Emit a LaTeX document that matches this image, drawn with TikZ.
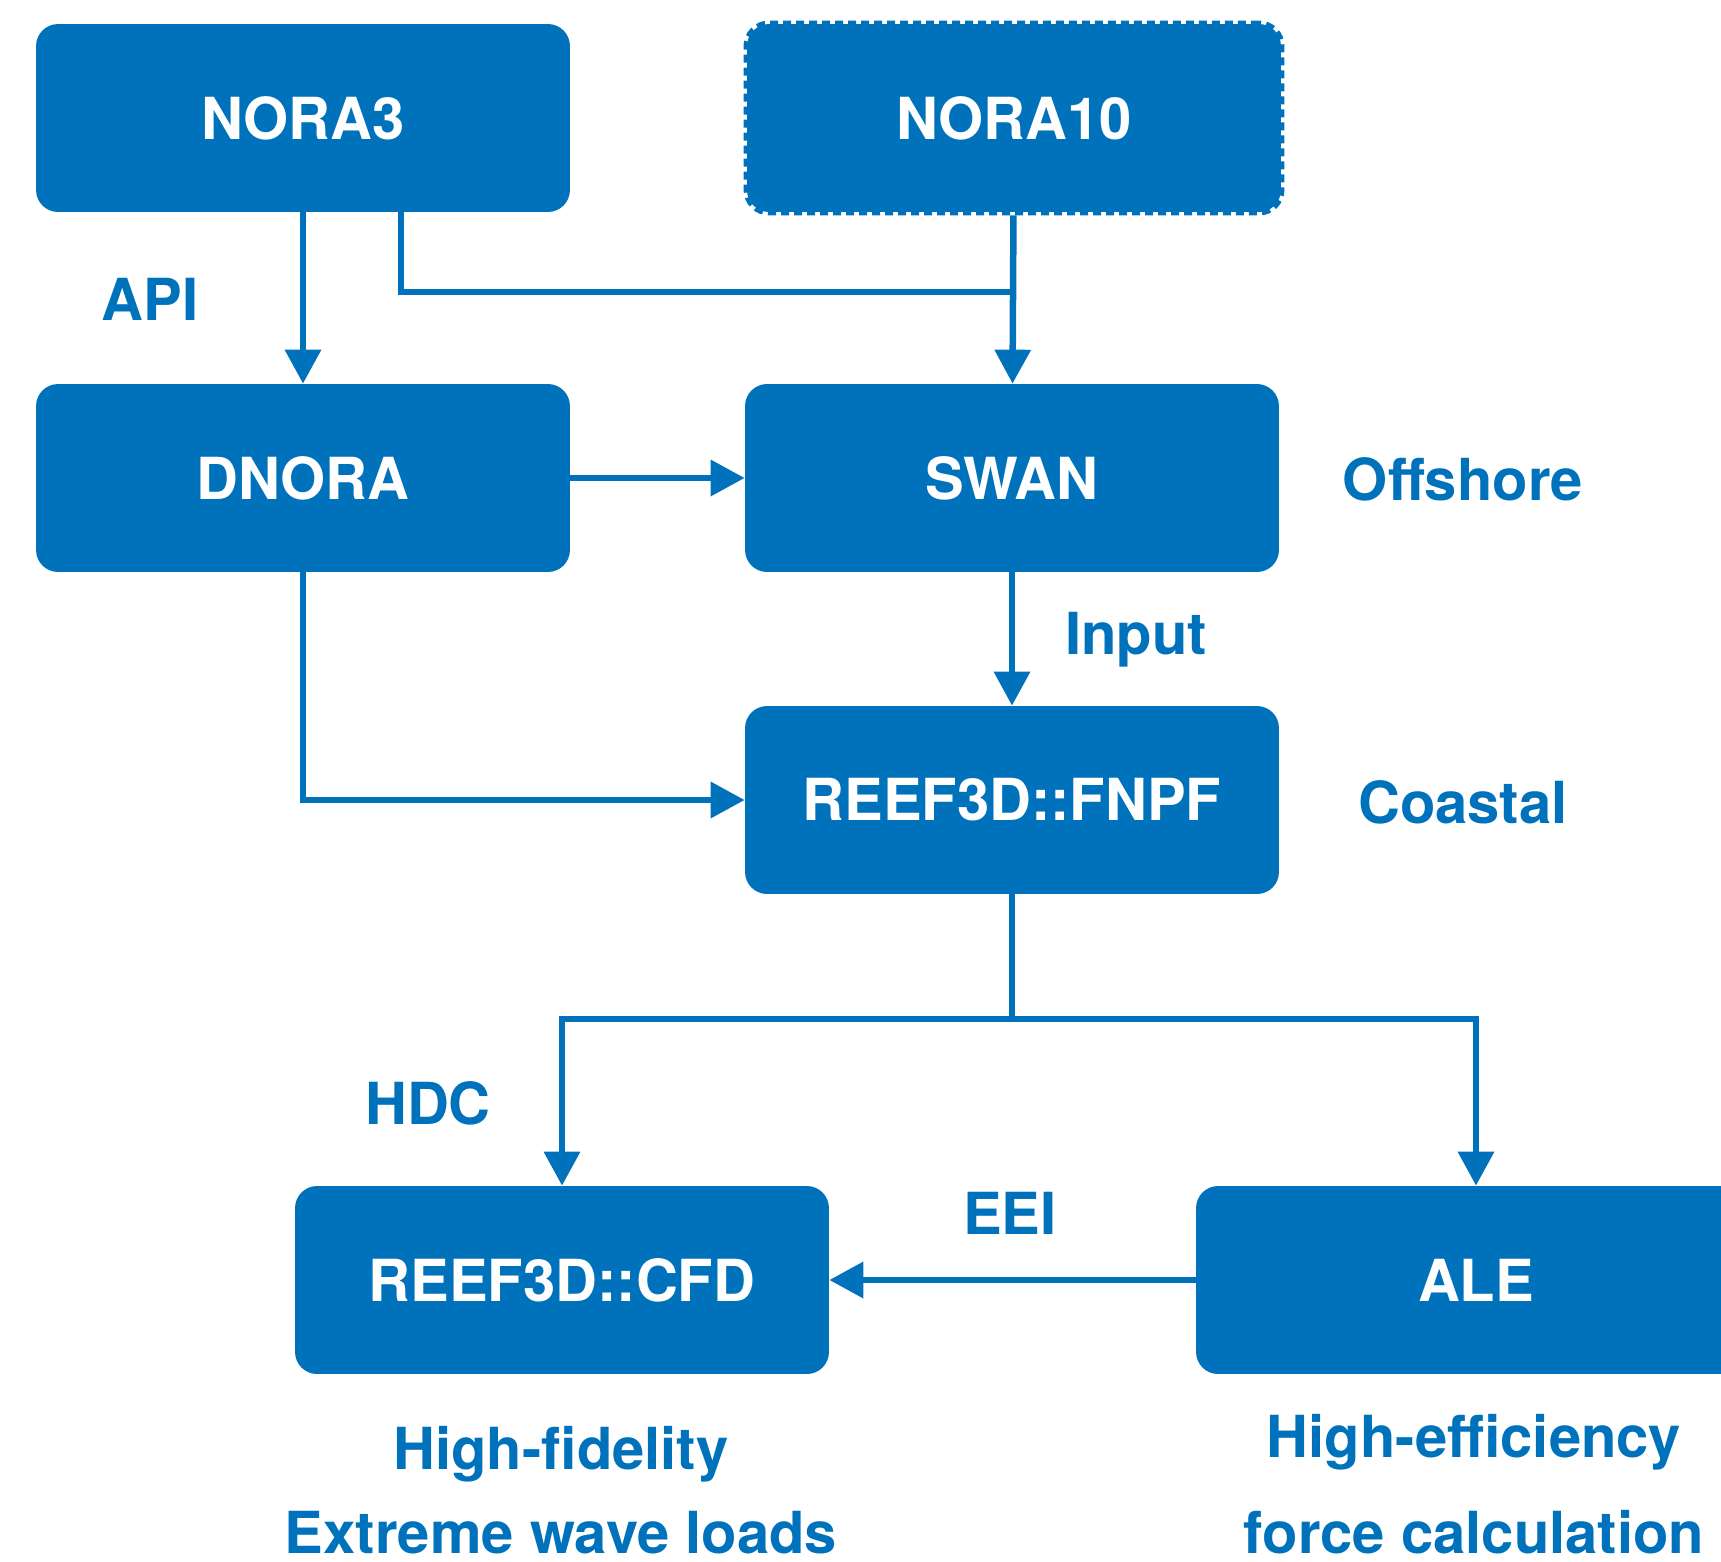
\documentclass[tikz,border=0pt]{standalone}
\usepackage{fontspec}
\setmainfont{TeX Gyre Heros}
\usetikzlibrary{arrows.meta}
\definecolor{flowblue}{RGB}{0,114,188}

\begin{document}
\begin{tikzpicture}[x = 0.02cm, y = -0.02cm,
		box/.style = {rectangle, rounded corners = 0.44cm, fill = flowblue, text = white,
			minimum width = 10.68cm, minimum height = 3.76cm, font = \fontsize{33}{40}\selectfont\bfseries},
		dashbox/.style = {box, draw = flowblue, line width = 0.14cm, dash pattern = on 0.16cm off 0.1cm},
		lbl/.style = {text = flowblue, font = \fontsize{33}{48}\selectfont\bfseries, align = center},
		link/.style = {draw = flowblue, line width = 0.13cm},
		arrow/.style = {link, -{Triangle[length = 0.68cm, width = 0.7cm]}}]
		\useasboundingbox (0,0) rectangle (1721,1562);

		\node (nora3) at (303,118) [box] {NORA3};
		\node (nora10) at (1014,118) [dashbox] {NORA10};
		\node (dnora) at (303,478) [box] {DNORA};
		\node (swan) at (1012,478) [box] {SWAN};
		\node (fnpf) at (1012,800) [box] {REEF3D::FNPF};
		\node (cfd) at (562,1280) [box] {REEF3D::CFD};
		\node (ale) at (1476,1280) [box, minimum width = 11.2cm] {ALE};

		\node (api) at (150,299) [lbl] {API};
		\node (input) at (1136,640) [lbl] {Input};
		\node (hdc) at (428,1103) [lbl] {HDC};
		\node (eei) at (1010,1213) [lbl] {EEI};
		\node (offshore) at (1463,479) [lbl] {Offshore};
		\node (coastal) at (1463,802) [lbl] {Coastal};
		\node (cfdnote) at (561,1490) [lbl] {High-fidelity\\Extreme wave loads};
		\node (alenote) at (1474,1484) [lbl] {High-efficiency\\[7pt]force calculation};

		\coordinate (merge) at (1012,292);
		\coordinate (fork) at (1012,1019);

		\draw [arrow] (nora3) -- (dnora);
		\draw [link] ([xshift = 1.96cm]nora3.south) |- (merge);
		\draw [arrow] (nora10) -- (swan);
		\draw [arrow] (dnora) -- (swan);
		\draw [arrow] (swan) -- (fnpf);
		\draw [arrow] (dnora.south) |- (fnpf.west);
		\draw [link] (fnpf) -- (fork);
		\draw [arrow] (fork) -| (cfd.north);
		\draw [arrow] (fork) -| (ale.north);
		\draw [arrow] (ale) -- (cfd);
\end{tikzpicture}
\end{document}
